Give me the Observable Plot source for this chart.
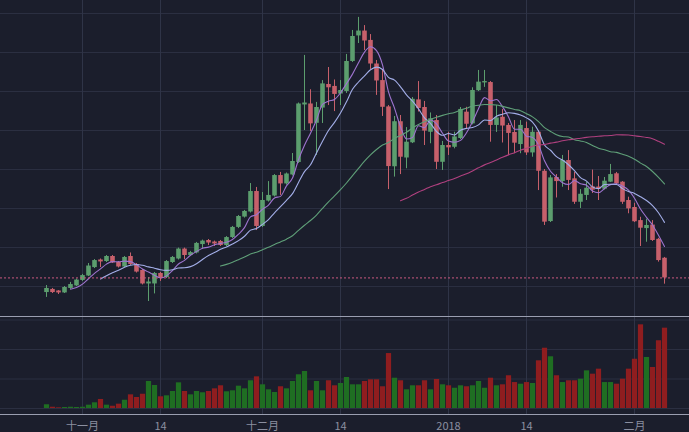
<!DOCTYPE html>
<html>
<head>
<meta charset="utf-8">
<script src="https://cdn.jsdelivr.net/npm/d3@7"></script>
<script src="https://cdn.jsdelivr.net/npm/@observablehq/plot@0.6"></script>
<style>
html, body { margin: 0; padding: 0; background: #1b1e2c; }
#chart { width: 689px; height: 432px; overflow: hidden; background: #1b1e2c; }
#chart svg { display: block; }
#vol { border-top: 1px solid #9a9eb0; }
</style>
</head>
<body>
<div id="chart"><div id="main"></div><div id="vol"></div></div>
<script>
// ---- data (daily candles, 2017-10-26 .. 2018-02-06) ----
const firstDay = "2017-10-26";
const lastDay = "2018-02-06";

const opens = [
  5690, 5850, 5770, 5670, 5900, 6030, 6310, 6540, 6970, 7360,
  7280, 7540, 7230, 7000, 7540, 7130, 6820, 6130, 6130, 6670,
  6460, 7230, 7410, 7920, 7590, 7720, 8150, 8360, 8280, 8310,
  8100, 8510, 9030, 9560, 9820, 10870, 9080, 10380, 10640, 11690,
  11260, 11720, 12360, 15310, 15360, 14370, 15150, 16360, 16260, 15870,
  16000, 17540, 18850, 19100, 18620, 17410, 16560, 15210, 12140, 14450,
  12590, 13370, 15570, 15180, 13910, 14510, 12370, 13230, 13140, 13590,
  14940, 14340, 16040, 16440, 16460, 14260, 14680, 14260, 13900, 13280,
  14100, 12850, 13910, 11910, 9330, 11590, 11380, 12460, 11520, 10320,
  10670, 11110, 11100, 10990, 11350, 11780, 11350, 10410, 10050, 9380,
  8970, 9150, 8420, 7450
];
const closes = [
  5900, 5690, 5670, 5950, 6100, 6330, 6560, 7050, 7330, 7260,
  7540, 7210, 7000, 7490, 7130, 6740, 6130, 6230, 6670, 6410,
  7280, 7490, 7920, 7590, 7740, 8210, 8330, 8230, 8180, 8100,
  8510, 9030, 9590, 9850, 10870, 9080, 10410, 10670, 11690, 11260,
  11770, 12410, 15360, 15410, 14340, 15180, 16390, 16190, 15850, 16050,
  17540, 18820, 19100, 18590, 17410, 16540, 15190, 12150, 14450, 12630,
  13400, 15600, 15130, 13970, 14600, 12370, 13230, 13110, 13670, 15080,
  14320, 16050, 16480, 16510, 14260, 14640, 14230, 13850, 13350, 14260,
  12850, 13910, 11910, 9300, 11570, 11380, 12460, 11440, 10320, 10730,
  11040, 10940, 11000, 11400, 11740, 11270, 10320, 9980, 9320, 8990,
  9130, 8360, 7330, 6440
];
const highs = [
  6050, 5900, 5790, 6000, 6210, 6380, 6620, 7180, 7380, 7410,
  7590, 7590, 7280, 7540, 7720, 7180, 6870, 6460, 6720, 6720,
  7330, 7540, 7970, 7970, 7800, 8260, 8380, 8410, 8330, 8360,
  8560, 9080, 9640, 9900, 11280, 11080, 10820, 11380, 11740, 11850,
  11820, 12820, 15410, 17850, 16090, 15440, 16560, 17230, 16590, 16560,
  17900, 19130, 19800, 19380, 18920, 17590, 17130, 15280, 14720, 14770,
  14150, 15690, 16510, 15490, 14900, 14770, 13440, 13910, 13910, 15180,
  15190, 16190, 17080, 17080, 16510, 15280, 15080, 14360, 14510, 14510,
  14430, 14170, 14000, 12000, 11690, 11740, 12720, 12970, 11850, 10970,
  11330, 11970, 11640, 11590, 12260, 11850, 11380, 10580, 10270, 9550,
  9450, 9380, 8470, 7490
];
const lows = [
  5440, 5640, 5590, 5640, 5850, 6000, 6260, 6510, 6920, 6970,
  7230, 7180, 6950, 6970, 7080, 6690, 6080, 5230, 5620, 6260,
  6410, 7180, 7360, 7380, 7540, 7670, 7900, 8100, 8050, 8050,
  8050, 8460, 8970, 9510, 9770, 8870, 9030, 10330, 10590, 10670,
  11200, 11670, 12310, 14000, 13950, 12720, 14360, 15280, 14970, 15280,
  15900, 17490, 18460, 18100, 17130, 15800, 14720, 10970, 11610, 11740,
  12040, 13330, 14950, 13230, 13320, 12000, 11950, 12720, 13060, 13540,
  14050, 14290, 16000, 16210, 13400, 13900, 13360, 12720, 12810, 12810,
  12720, 12630, 10920, 9130, 9280, 10540, 11090, 10920, 10210, 10000,
  10410, 10770, 10410, 10950, 11330, 11230, 10210, 9730, 9280, 8050,
  8270, 8310, 7250, 6120
];
const volumes = [
  3.8, 1.3, 0.7, 1.0, 1.3, 1.0, 1.3, 3.4, 5.8, 9.2,
  3.4, 2.3, 4.4, 8.4, 13.9, 11.2, 14.5, 27.5, 23.4, 11.9,
  12.9, 17.3, 26.1, 17.3, 13.9, 17.3, 16.0, 17.3, 20.0, 23.1,
  17.0, 18.0, 22.7, 20.0, 28.2, 32.2, 24.1, 19.0, 16.3, 22.1,
  20.0, 27.5, 34.3, 37.6, 18.0, 27.5, 18.0, 28.2, 23.1, 25.4,
  31.5, 24.1, 24.1, 27.5, 29.2, 29.2, 22.1, 55.9, 30.8, 28.2,
  19.0, 23.1, 23.1, 28.2, 19.0, 29.5, 24.1, 23.1, 20.6, 23.1,
  22.1, 23.1, 27.5, 20.6, 30.8, 23.1, 24.1, 33.3, 26.4, 24.7,
  26.4, 25.4, 48.5, 61.3, 52.6, 33.3, 26.4, 28.2, 28.2, 29.8,
  38.3, 34.9, 40.0, 26.4, 26.4, 24.7, 29.8, 40.0, 50.1, 85.1,
  51.9, 41.7, 68.9, 81.7
];

const tickDates = ["2017-11-01", "2017-11-14", "2017-12-01", "2017-12-14", "2018-01-01", "2018-01-14", "2018-02-01"];
const tickLabels = ["十一月", "14", "十二月", "14", "2018", "14", "二月"];
const priceGrid = [6000, 8000, 10000, 12000, 14000, 16000, 18000, 20000];
const volumeGrid = [0, 30, 60, 90];

const maSpecs = [
  {k: 5, color: "#9e74cf"},
  {k: 10, color: "#a3aee8"},
  {k: 30, color: "#5f9f78"},
  {k: 60, color: "#b0407f"}
];

// ---- styles ----
const BG = "#1b1e2c";
const GRID = "#2b2f41";
const VGRID = "#2f3447";
const UP = "#5c9e6e";
const DOWN = "#c7606b";
const VUP = "#1f6e22";
const VDOWN = "#8f1d1f";
const AXIS = "#9a9eb0";
const LABEL = "#8b8fa0";
const PRICE_LINE = "#c9587f";
const FONT = "'Noto Sans CJK SC', 'Noto Sans', sans-serif";

// ---- build tables ----
const days = d3.utcDay.range(new Date(firstDay), d3.utcDay.offset(new Date(lastDay), 1));
const candles = days.map((date, i) => ({
  date, open: opens[i], close: closes[i], high: highs[i], low: lows[i], volume: volumes[i]
}));
const ups = candles.filter(d => d.close >= d.open);
const downs = candles.filter(d => d.close < d.open);
const ticks = tickDates.map((t, i) => ({date: new Date(t), label: tickLabels[i]}));
const lastClose = candles[candles.length - 1].close;

const xScale = {
  type: "utc",
  domain: [new Date(Date.UTC(2017, 9, 18, 8)), new Date(Date.UTC(2018, 1, 10, 4))],
  axis: null
};

const mainPlot = Plot.plot({
  width: 689,
  height: 316,
  margin: 0,
  style: {background: BG, overflow: "hidden"},
  x: xScale,
  y: {domain: [4461.5, 20666.7], axis: null},
  marks: [
    Plot.ruleY(priceGrid, {stroke: GRID, strokeWidth: 1}),
    Plot.ruleX(ticks, {x: "date", stroke: VGRID, strokeWidth: 1}),
    Plot.ruleX(ups, {x: "date", y1: "low", y2: "high", stroke: UP, strokeWidth: 1}),
    Plot.ruleX(downs, {x: "date", y1: "low", y2: "high", stroke: DOWN, strokeWidth: 1}),
    Plot.ruleX(ups, {x: "date", y1: "open", y2: "close", stroke: UP, strokeWidth: 4.6}),
    Plot.ruleX(downs, {x: "date", y1: "open", y2: "close", stroke: DOWN, strokeWidth: 4.6}),
    ...maSpecs.map(s => Plot.lineY(candles, Plot.windowY(
      {k: s.k, anchor: "end", strict: true},
      {x: "date", y: "close", stroke: s.color, strokeWidth: 1.1, curve: "monotone-x"}
    ))),
    Plot.ruleY([lastClose], {stroke: PRICE_LINE, strokeWidth: 1, strokeDasharray: "2,2"})
  ]
});

const volPlot = Plot.plot({
  width: 689,
  height: 115,
  margin: 0,
  style: {background: BG, overflow: "hidden"},
  x: xScale,
  y: {domain: [0, 90], range: [91, 2.5], axis: null},
  marks: [
    Plot.ruleY(volumeGrid, {stroke: GRID, strokeWidth: 1}),
    Plot.ruleX(ticks, {x: "date", stroke: VGRID, strokeWidth: 1, insetBottom: 18}),
    Plot.ruleX(ups, {x: "date", y1: d => 0, y2: "volume", stroke: VUP, strokeWidth: 5.2}),
    Plot.ruleX(downs, {x: "date", y1: d => 0, y2: "volume", stroke: VDOWN, strokeWidth: 5.2}),
    Plot.ruleY([0], {stroke: AXIS, strokeWidth: 1, dy: 6}),
    Plot.text(ticks, {x: "date", y: d => 0, dy: 18, text: "label", fill: LABEL, fontSize: 11, fontFamily: FONT})
  ]
});

document.getElementById("main").appendChild(mainPlot);
document.getElementById("vol").appendChild(volPlot);
</script>
</body>
</html>
